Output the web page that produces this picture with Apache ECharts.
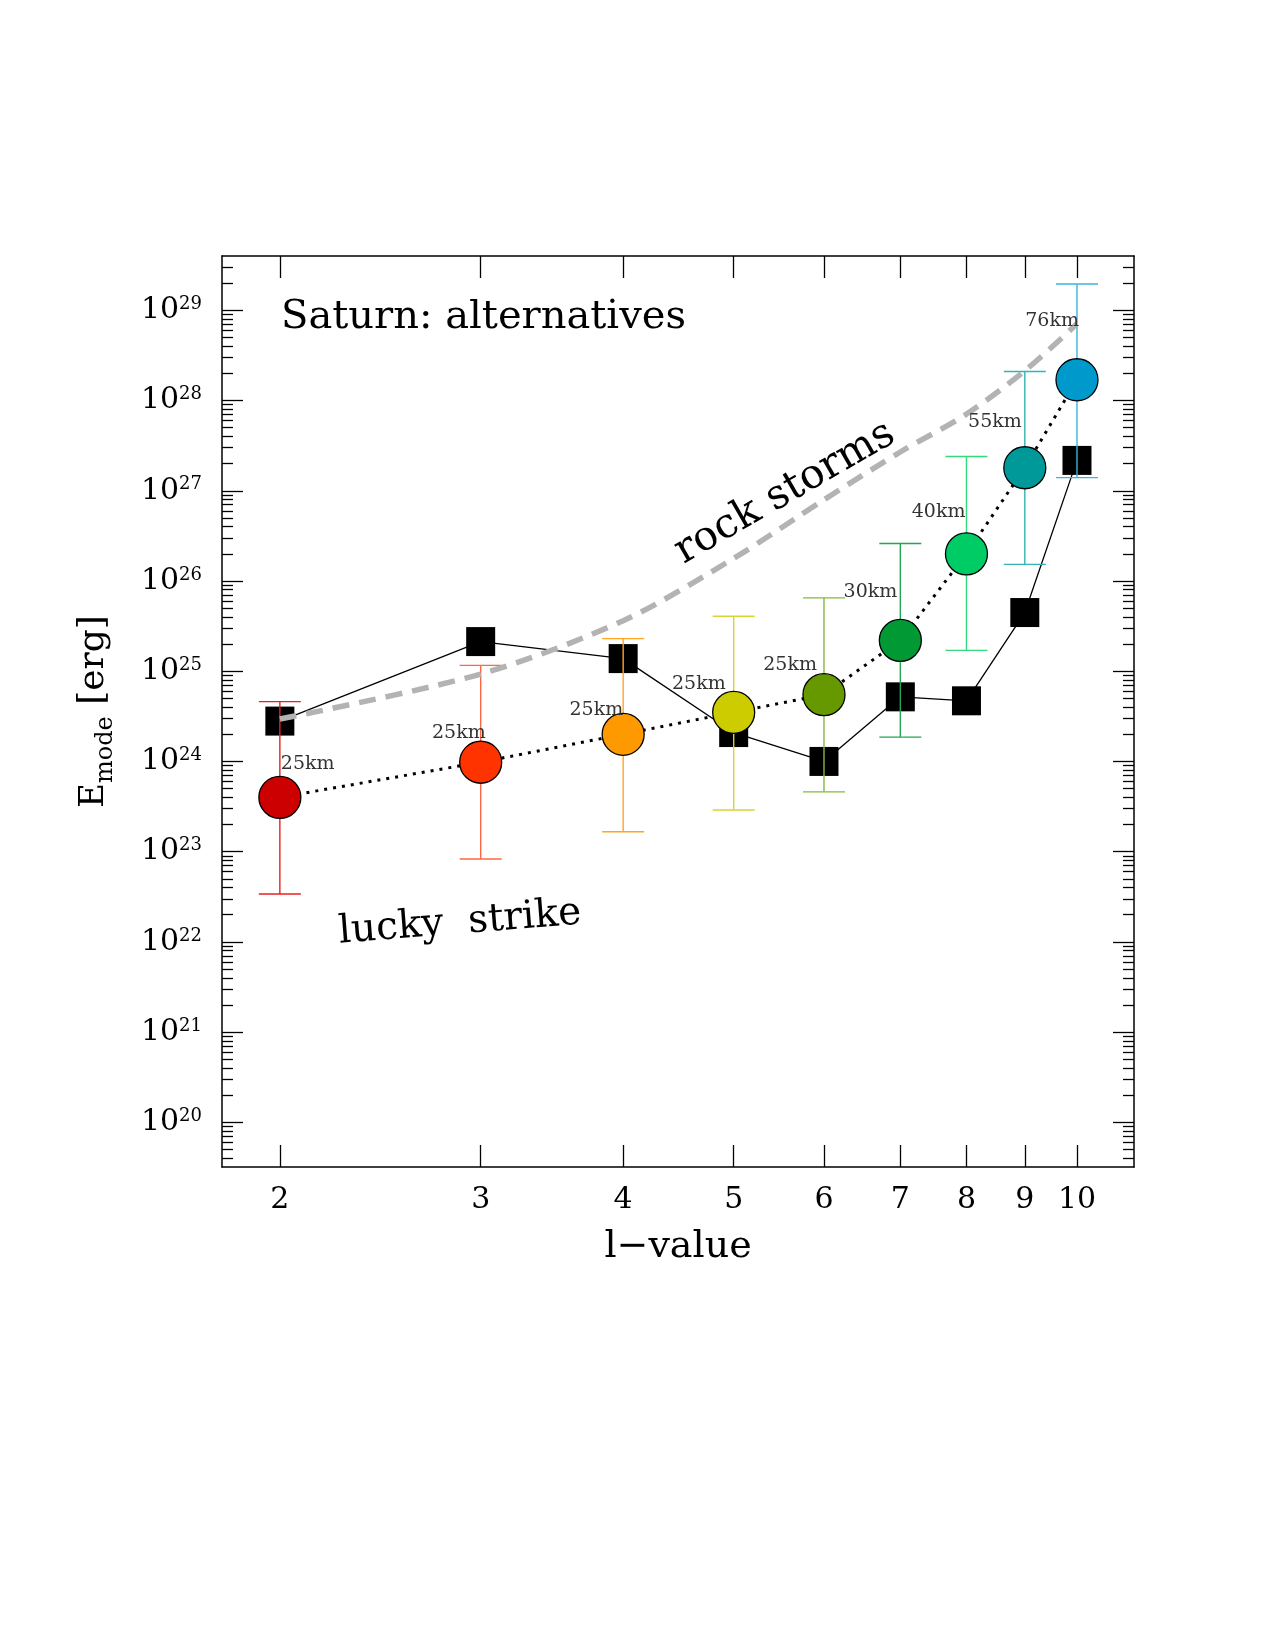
<!DOCTYPE html>
<html>
<head>
<meta charset="utf-8">
<title>Saturn: alternatives</title>
<script src="https://cdn.jsdelivr.net/npm/echarts@6/dist/echarts.min.js"></script>
<style>
  html, body { margin: 0; padding: 0; background: #fff; }
  #chart { width: 1275px; height: 1650px; }
</style>
</head>
<body>
<div id="chart"></div>
<script>
// l-values on the x axis
const lValues = [2, 3, 4, 5, 6, 7, 8, 9, 10]
// coloured circles: E_mode [erg] and their error range
const circleE = [4.0e23, 9.8e23, 2.0e24, 3.5e24, 5.5e24, 2.2e25, 2.0e26, 1.8e27, 1.7e28]
const errLow = [3.4e22, 8.3e22, 1.66e23, 2.9e23, 4.6e23, 1.86e24, 1.7e25, 1.53e26, 1.4e27]
const errHigh = [4.6e24, 1.16e25, 2.3e25, 4.06e25, 6.5e25, 2.6e26, 2.4e27, 2.1e28, 1.96e29]
const sizeLabels = ['25km', '25km', '25km', '25km', '25km', '30km', '40km', '55km', '76km']
// black squares
const squareE = [2.8e24, 2.13e25, 1.38e25, 2.09e24, 1.0e24, 5.2e24, 4.7e24, 4.47e25, 2.17e27]
// grey dashed "rock storms" curve
const rockL = [2, 3, 4, 5, 6, 7, 8, 9, 10]
const rockE = [2.95e24, 9.3e24, 3.63e25, 1.78e26, 7.94e26, 2.69e27, 7.08e27, 2.14e28, 7.08e28]
// axis ticks
const xTicks = [2, 3, 4, 5, 6, 7, 8, 9, 10]
const yMajorExp = [20, 21, 22, 23, 24, 25, 26, 27, 28, 29]
const xRange = [1.7795, 11.22]
const yRangeExp = [19.505, 29.602]

const circleColors = ['#cc0000', '#ff3300', '#ff9900', '#cccc00', '#669900', '#009933', '#00cc66', '#009999', '#0099cc']
const errColors = ['#e82020', '#ff6644', '#ffa522', '#d6d632', '#88b83a', '#22a650', '#33d97c', '#33b3b3', '#3ab4dc']
// label placement relative to circle centre: [dx, dy, align]
const kmLabelShift = [[1, -33, 'left'], [5, -29, 'right'], [0, -24, 'right'], [-8, -28, 'right'], [-7, -30, 'right'],
    [-3, -48, 'right'], [-1, -42, 'right'], [-3, -46, 'right'], [2, -59, 'right']]

const FONT = '"DejaVu Serif", "Liberation Serif", serif'
const lg = Math.log10

const yMinorExp = []
for (let n = 19; n <= 29; n++) {
    for (let m = 2; m <= 9; m++) {
        const v = n + lg(m)
        if (v > yRangeExp[0] && v < yRangeExp[1] - 0.002) yMinorExp.push(v)
    }
}

const xMin = lg(xRange[0])
const xMax = lg(xRange[1])
const tickStyle = { color: '#000', width: 1.3 }

const baseY = {
    type: 'value', min: yRangeExp[0], max: yRangeExp[1],
    splitLine: { show: false },
    axisLine: { show: false }
}

const chart = echarts.init(document.getElementById('chart'), null, { renderer: 'canvas' })

const option = {
    backgroundColor: '#fff',
    animation: false,
    grid: { left: 222, top: 256, width: 912, height: 911 },
    xAxis: [
        {
            type: 'value', position: 'bottom', min: xMin, max: xMax,
            splitLine: { show: false },
            axisLine: { show: true, lineStyle: { color: '#000', width: 1.5 } },
            axisTick: { show: true, inside: true, length: 22, customValues: xTicks.map(lg), lineStyle: tickStyle },
            axisLabel: {
                customValues: xTicks.map(lg), margin: 18,
                formatter: v => String(Math.round(Math.pow(10, v))),
                fontSize: 30, fontFamily: FONT, color: '#000'
            },
            name: 'l\u2212value', nameLocation: 'middle', nameGap: 61,
            nameTextStyle: { fontSize: 38, fontFamily: FONT, color: '#000' }
        },
        {
            type: 'value', position: 'top', min: xMin, max: xMax,
            splitLine: { show: false },
            axisLine: { show: true, lineStyle: { color: '#000', width: 1.5 } },
            axisTick: { show: true, inside: true, length: 22, customValues: xTicks.map(lg), lineStyle: tickStyle },
            axisLabel: { show: false }
        }
    ],
    yAxis: [
        Object.assign({}, baseY, {
            position: 'left',
            axisLine: { show: true, lineStyle: { color: '#000', width: 1.5 } },
            axisTick: { show: true, inside: true, length: 21, customValues: yMajorExp, lineStyle: tickStyle },
            axisLabel: {
                customValues: yMajorExp, margin: 20,
                formatter: v => '{a|10}{b|' + Math.round(v) + '}',
                rich: {
                    a: { fontSize: 30, fontFamily: FONT, color: '#000', lineHeight: 30 },
                    b: { fontSize: 18, fontFamily: FONT, color: '#000', lineHeight: 20, verticalAlign: 'top' }
                }
            },
            name: '{e|E}{m|mode}{r| [erg]}', nameLocation: 'middle', nameRotate: 90, nameGap: 110,
            nameTextStyle: {
                rich: {
                    e: { fontSize: 34, fontFamily: FONT, color: '#000', lineHeight: 34 },
                    m: { fontSize: 24, fontFamily: FONT, color: '#000', lineHeight: 24, padding: [24, 0, 0, 0] },
                    r: { fontSize: 36, fontFamily: FONT, color: '#000', lineHeight: 36 }
                }
            }
        }),
        Object.assign({}, baseY, {
            position: 'left',
            axisTick: { show: true, inside: true, length: 11, customValues: yMinorExp, lineStyle: tickStyle },
            axisLabel: { show: false }
        }),
        Object.assign({}, baseY, {
            position: 'right',
            axisLine: { show: true, lineStyle: { color: '#000', width: 1.5 } },
            axisTick: { show: true, inside: true, length: 21, customValues: yMajorExp, lineStyle: tickStyle },
            axisLabel: { show: false }
        }),
        Object.assign({}, baseY, {
            position: 'right',
            axisTick: { show: true, inside: true, length: 11, customValues: yMinorExp, lineStyle: tickStyle },
            axisLabel: { show: false }
        })
    ],
    graphic: [
        {
            type: 'text', x: 281, y: 318,
            style: { text: 'Saturn: alternatives', font: '40px ' + FONT, fill: '#000', align: 'left', verticalAlign: 'middle' }
        },
        {
            type: 'text', x: 785, y: 493, rotation: 30 * Math.PI / 180,
            style: { text: 'rock storms', font: '41px ' + FONT, fill: '#000', align: 'center', verticalAlign: 'middle' }
        },
        {
            type: 'text', x: 460, y: 923, rotation: 4.5 * Math.PI / 180,
            style: { text: 'lucky  strike', font: '39px ' + FONT, fill: '#000', align: 'center', verticalAlign: 'middle' }
        }
    ],
    series: [
        {
            name: 'squares', type: 'line', z: 1,
            data: lValues.map((l, i) => [lg(l), lg(squareE[i])]),
            symbol: 'rect', symbolSize: 29,
            itemStyle: { color: '#000' },
            lineStyle: { color: '#000', width: 1.3 }
        },
        {
            name: 'errors', type: 'custom', z: 2,
            data: lValues.map((l, i) => [lg(l), lg(errLow[i]), lg(errHigh[i])]),
            encode: { x: 0, y: [1, 2] },
            renderItem: (params, api) => {
                const x = api.value(0)
                const lo = api.coord([x, api.value(1)])
                const hi = api.coord([x, api.value(2)])
                const style = { stroke: errColors[params.dataIndex], lineWidth: 1.4 }
                const w = 21
                return {
                    type: 'group',
                    children: [
                        { type: 'line', shape: { x1: lo[0], y1: lo[1], x2: hi[0], y2: hi[1] }, style },
                        { type: 'line', shape: { x1: lo[0] - w, y1: lo[1], x2: lo[0] + w, y2: lo[1] }, style },
                        { type: 'line', shape: { x1: hi[0] - w, y1: hi[1], x2: hi[0] + w, y2: hi[1] }, style }
                    ]
                }
            }
        },
        {
            name: 'rock storms', type: 'line', z: 3,
            data: rockL.map((l, i) => [lg(l), lg(rockE[i])]),
            symbol: 'none', smooth: 0.3,
            lineStyle: { color: '#b3b3b3', width: 5.5, type: [17, 10] }
        },
        {
            name: 'dotted', type: 'line', z: 4,
            data: lValues.map((l, i) => [lg(l), lg(circleE[i])]),
            symbol: 'none',
            lineStyle: { color: '#000', width: 3, type: [3, 6] }
        },
        {
            name: 'circles', type: 'scatter', z: 5,
            symbol: 'circle', symbolSize: 42,
            data: lValues.map((l, i) => ({
                value: [lg(l), lg(circleE[i])],
                name: sizeLabels[i],
                itemStyle: { color: circleColors[i] },
                label: { offset: [kmLabelShift[i][0], kmLabelShift[i][1]], align: kmLabelShift[i][2] }
            })),
            itemStyle: { borderColor: '#000', borderWidth: 1.3, opacity: 1 },
            label: {
                show: true, position: 'inside', formatter: '{b}', verticalAlign: 'middle',
                fontSize: 19, fontFamily: FONT, color: '#333'
            },
            emphasis: { disabled: true }
        }
    ]
}

chart.setOption(option)
</script>
</body>
</html>
